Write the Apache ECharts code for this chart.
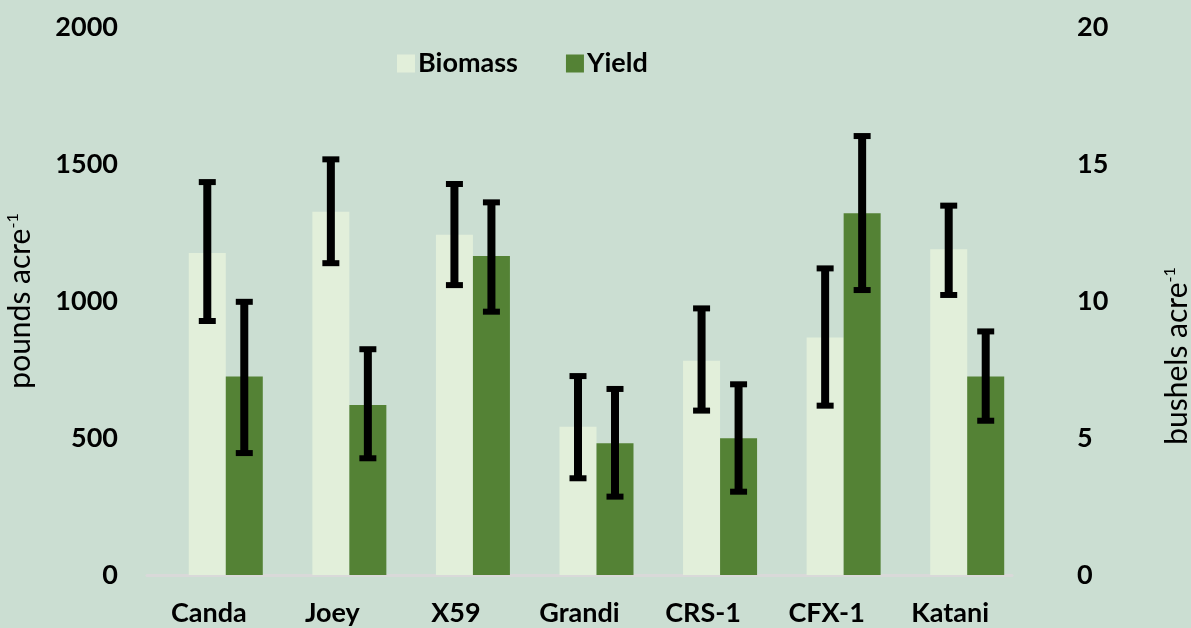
<!DOCTYPE html>
<html>
<head>
<meta charset="utf-8">
<script src="https://cdn.jsdelivr.net/npm/echarts@6/dist/echarts.min.js"></script>
<style>
html,body{margin:0;padding:0;background:#cbded2;}
#chart{width:1191px;height:628px;}
</style>
</head>
<body>
<div id="chart"></div>
<script>
var categories = ['Canda', 'Joey', 'X59', 'Grandi', 'CRS-1', 'CFX-1', 'Katani'];
var biomass = [1175, 1326, 1242, 541, 782, 867, 1189];
var biomassLow = [927, 1138, 1058, 353, 600, 618, 1022];
var biomassHigh = [1434, 1517, 1427, 726, 973, 1119, 1348];
var yieldVals = [7.24, 6.2, 11.64, 4.81, 4.99, 13.2, 7.24];
var yieldLow = [4.45, 4.26, 9.61, 2.86, 3.04, 10.4, 5.63];
var yieldHigh = [9.97, 8.24, 13.6, 6.79, 6.96, 16.02, 8.89];
var leftTicks = [0, 500, 1000, 1500, 2000];
var rightTicks = [0, 5, 10, 15, 20];

var font = 'Lato';
var barW = 37;
var spacerW = 34;

function errData(low, high) {
    var out = [];
    for (var i = 0; i < low.length; i++) {
        out.push([i, low[i], high[i]]);
    }
    return out;
}

// draw one error bar, shifted by dx pixels from the category centre
function errRender(dx) {
    return function(params, api) {
        var lo = api.coord([api.value(0), api.value(1)]);
        var hi = api.coord([api.value(0), api.value(2)]);
        var x = lo[0] + dx;
        var st = {stroke: '#000', lineWidth: 8};
        var cap = {stroke: '#000', lineWidth: 6};
        return {
            type: 'group',
            children: [
                {type: 'line', shape: {x1: x, y1: lo[1], x2: x, y2: hi[1]}, style: st},
                {type: 'line', shape: {x1: x - 8.5, y1: hi[1], x2: x + 8.5, y2: hi[1]}, style: cap},
                {type: 'line', shape: {x1: x - 8.5, y1: lo[1], x2: x + 8.5, y2: lo[1]}, style: cap}
            ]
        };
    };
}

// centre of the biomass bar relative to the category centre
var bioOff = spacerW - (spacerW + 2 * barW) / 2 + barW / 2;

var chart = echarts.init(document.getElementById('chart'));
var option = {
    backgroundColor: '#cbded2',
    animation: false,
    textStyle: {fontFamily: font},
    legend: {
        data: ['Biomass', 'Yield'],
        left: 392,
        top: 45,
        icon: 'rect',
        itemWidth: 18,
        itemHeight: 18,
        itemGap: 48,
        textStyle: {fontFamily: font, fontSize: 27, fontWeight: 'bold', color: '#000', padding: [0, 0, 0, -2]}
    },
    grid: {left: 147, right: 179, top: 27, bottom: 53, outerBoundsMode: 'none', containLabel: false},
    xAxis: {
        type: 'category',
        data: categories,
        axisLine: {show: true, lineStyle: {color: '#d9d9d9', width: 3}},
        axisTick: {show: false},
        axisLabel: {fontFamily: font, fontSize: 27, fontWeight: 'bold', color: '#000', margin: 25, interval: 0}
    },
    yAxis: [
        {
            type: 'value',
            min: leftTicks[0],
            max: leftTicks[leftTicks.length - 1],
            interval: leftTicks[1] - leftTicks[0],
            splitLine: {show: false},
            axisLine: {show: false},
            axisTick: {show: false},
            axisLabel: {fontFamily: font, fontSize: 27, fontWeight: 'bold', color: '#000', margin: 29,
                formatter: function(v) { return String(v); }},
            name: '{a|pounds acre}{b|-1}',
            nameLocation: 'middle',
            nameRotate: 90,
            nameGap: 112,
            nameTextStyle: {
                rich: {
                    a: {fontFamily: font, fontSize: 30, color: '#000'},
                    b: {fontFamily: font, fontSize: 16, color: '#000', verticalAlign: 'top'}
                }
            }
        },
        {
            type: 'value',
            min: rightTicks[0],
            max: rightTicks[rightTicks.length - 1],
            interval: rightTicks[1] - rightTicks[0],
            splitLine: {show: false},
            axisLine: {show: false},
            axisTick: {show: false},
            axisLabel: {fontFamily: font, fontSize: 27, fontWeight: 'bold', color: '#000', margin: 65},
            name: '{a|bushels acre}{b|-1}',
            nameLocation: 'middle',
            nameRotate: 90,
            nameGap: 150,
            nameTextStyle: {
                padding: [0, 110, 0, 0],
                rich: {
                    a: {fontFamily: font, fontSize: 30, color: '#000'},
                    b: {fontFamily: font, fontSize: 16, color: '#000', verticalAlign: 'top'}
                }
            }
        }
    ],
    series: [
        {
            // empty slot, keeps the bar pair right of the category centre like the original
            name: 'spacer',
            type: 'bar',
            barWidth: spacerW,
            barGap: 0,
            data: categories.map(function() { return 0; }),
            itemStyle: {color: 'rgba(0,0,0,0)'},
            silent: true
        },
        {
            name: 'Biomass',
            type: 'bar',
            yAxisIndex: 0,
            barWidth: barW,
            barGap: 0,
            data: biomass,
            itemStyle: {color: '#e2efda'}
        },
        {
            name: 'Yield',
            type: 'bar',
            yAxisIndex: 1,
            barWidth: barW,
            barGap: 0,
            data: yieldVals,
            itemStyle: {color: '#548235'}
        },
        {
            name: 'Biomass err',
            type: 'custom',
            yAxisIndex: 0,
            renderItem: errRender(bioOff),
            data: errData(biomassLow, biomassHigh),
            encode: {x: 0, y: [1, 2]},
            z: 10
        },
        {
            name: 'Yield err',
            type: 'custom',
            yAxisIndex: 1,
            renderItem: errRender(bioOff + barW),
            data: errData(yieldLow, yieldHigh),
            encode: {x: 0, y: [1, 2]},
            z: 10
        }
    ]
};
chart.setOption(option);
</script>
</body>
</html>
